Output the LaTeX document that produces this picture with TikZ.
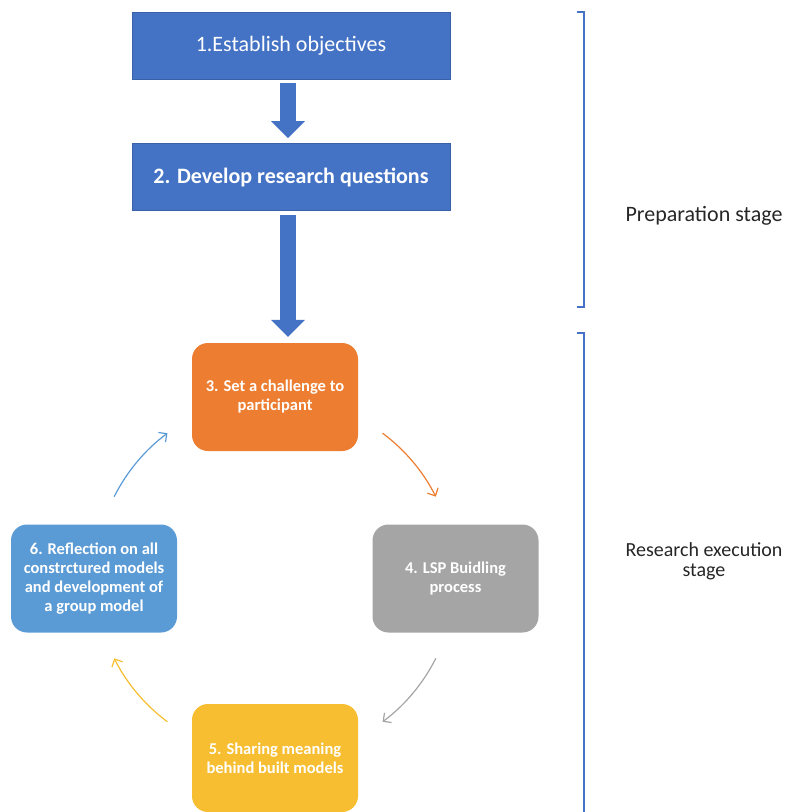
\documentclass[tikz,border=0pt]{standalone}
\usepackage{fontspec}
\setmainfont{Carlito}
\usetikzlibrary{arrows.meta,calc}

\definecolor{officeblue}{HTML}{4472C4}
\definecolor{officeorange}{HTML}{ED7D31}
\definecolor{officegrey}{HTML}{A5A5A5}
\definecolor{officegold}{HTML}{F6BE30}
\definecolor{officesky}{HTML}{5B9BD5}

\begin{document}
\begin{tikzpicture}[x=1pt, y=-1pt,
    stagebox/.style={rectangle, fill=officeblue, draw=officeblue!85!black, line width=0.6pt,
      minimum width=318pt, minimum height=67pt, text=white, font=\fontsize{22}{26}\selectfont},
    cyclebox/.style={rectangle, rounded corners=16pt, minimum width=166pt, minimum height=108pt,
      text=white, align=center, font=\fontsize{16.5}{19}\selectfont\bfseries},
    blockarrow/.style={draw=officeblue, line width=16pt, -{Triangle[width=33pt,length=17pt]}},
    cyclearrow/.style={line width=1.2pt, -{Straight Barb[length=6pt,width=12pt]}},
    stagebracket/.style={draw=officeblue, line width=1.2pt},
    stagelabel/.style={align=center, text=black!85, font=\fontsize{20}{20}\selectfont}]

    \useasboundingbox (0,0) rectangle (795,812);

    \node[stagebox] (n1) at (291,46) {1.Establish objectives};
    \node[stagebox, font=\fontsize{22}{26}\selectfont\bfseries] (n2) at (291,177) {2. Develop research questions};
    \draw[blockarrow] ([xshift=-3pt,yshift=-3pt]n1.south) -- ([xshift=-3pt,yshift=5pt]n2.north);

    \node[cyclebox, fill=officeorange] (n3) at (275,397) {3. Set a challenge to\\participant};
    \node[cyclebox, fill=officegrey] (n4) at (455.5,578.5) {4. LSP Buidling\\process};
    \node[cyclebox, fill=officegold] (n5) at (275,758) {5. Sharing meaning\\behind built models};
    \node[cyclebox, fill=officesky] (n6) at (94,578.5) {6. Reflection on all\\constrctured models\\and development of\\a group model};
    \draw[blockarrow] ([xshift=-3pt,yshift=-4pt]n2.south) -- ($(n2.south |- n3.north)+(-3pt,6pt)$);

    \coordinate (hub) at ($(n3)!0.5!(n5)$);
    \draw[cyclearrow, officeorange] ([shift={(53.3:180pt)}]hub) arc[start angle=53.3, end angle=26.7, radius=180pt];
    \draw[cyclearrow, officegrey] ([shift={(-26.7:180pt)}]hub) arc[start angle=-26.7, end angle=-53.3, radius=180pt];
    \draw[cyclearrow, officegold] ([shift={(233.3:180pt)}]hub) arc[start angle=233.3, end angle=206.7, radius=180pt];
    \draw[cyclearrow, officesky] ([shift={(153.3:180pt)}]hub) arc[start angle=153.3, end angle=126.7, radius=180pt];

    \draw[stagebracket] (577,12) -- (584,12) -- (584,307) -- (577,307);
    \draw[stagebracket] (577,333) -- (584,333) -- (584,815);
    \node[stagelabel, font=\fontsize{22}{22}\selectfont] (prep) at (704,216) {Preparation stage};
    \node[stagelabel] (exec) at (704,561) {Research execution\\stage};
\end{tikzpicture}
\end{document}
